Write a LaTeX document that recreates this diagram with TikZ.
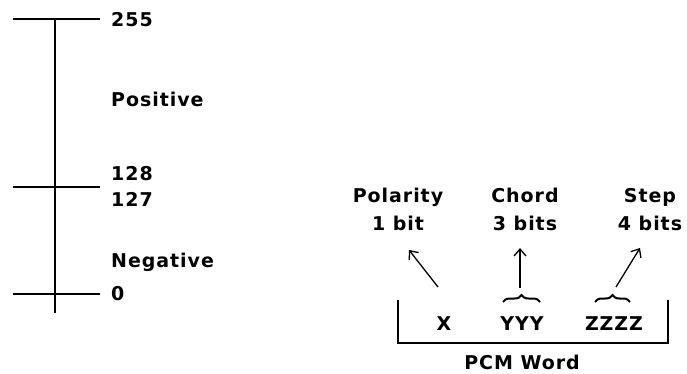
\documentclass[tikz,border=0pt]{standalone}
\usepackage{fontspec}
\newfontfamily\chicago[LetterSpace=5]{DejaVu Sans}
\usepackage{tikz}
\usetikzlibrary{arrows.meta, positioning, decorations.pathreplacing}

\begin{document}
\begin{tikzpicture}[x=1pt, y=-1pt,
  lbl/.style={font=\chicago\bfseries\fontsize{19}{21}\selectfont, inner sep=0pt, anchor=base},
  scaleline/.style={line width=2.4pt},
  ptr/.style={line width=1.3pt, -{Straight Barb[length=7pt, width=12pt]}},
  brc/.style={decorate, decoration={brace, amplitude=7pt}, line width=2pt}]
  \useasboundingbox (0,0) rectangle (687,374);

  % code scale
  \draw[scaleline] (55,19) -- (55,313);
  \foreach \y in {19, 187, 294}
    \draw[scaleline] (13,\y) -- (100,\y);
  \node[lbl, anchor=base west] (top) at (111,27) {255};
  \node[lbl, anchor=base west] (pos) at (111,107) {Positive};
  \node[lbl, anchor=base west] (hi) at (111,180) {128};
  \node[lbl, anchor=base west] (lo) at (111,206) {127};
  \node[lbl, anchor=base west] (neg) at (111,267) {Negative};
  \node[lbl, anchor=base west] (zero) at (111,300) {0};

  % PCM word
  \node[lbl] (polarity) at (398,202) {Polarity};
  \node[lbl] (polbits) at (398,230) {1 bit};
  \node[lbl] (chord) at (525,202) {Chord};
  \node[lbl] (chordbits) at (525,230) {3 bits};
  \node[lbl] (step) at (650,202) {Step};
  \node[lbl] (stepbits) at (650,230) {4 bits};

  \node[lbl] (x) at (444,330) {X};
  \node[lbl] (yyy) at (522,330) {YYY};
  \node[lbl] (zzzz) at (614,330) {ZZZZ};
  \node[lbl] (word) at (522,369) {PCM Word};

  \draw[scaleline] (398,300) -- (398,343) -- (668,343) -- (668,300);
  \draw[brc] (503,302) -- (540,302) coordinate[midway] (ytip);
  \draw[brc] (595,302) -- (630,302) coordinate[midway] (ztip);

  \coordinate (xtail) at (438,287);
  \coordinate (ytail) at (520,288);
  \coordinate (ztail) at (616,287);
  \coordinate (pend) at (409,250);
  \coordinate (cend) at (520,248);
  \coordinate (send) at (640,248);
  \draw[ptr] (xtail) -- (pend);
  \draw[ptr] (ytail) -- (cend);
  \draw[ptr] (ztail) -- (send);
\end{tikzpicture}
\end{document}
